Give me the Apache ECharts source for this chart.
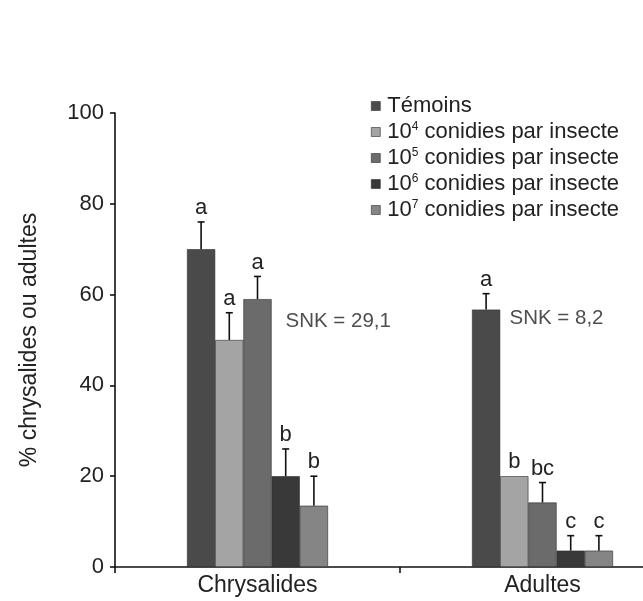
<!DOCTYPE html>
<html>
<head>
<meta charset="utf-8">
<script src="https://cdn.jsdelivr.net/npm/echarts@6/dist/echarts.min.js"></script>
<style>
html,body{margin:0;padding:0;background:#fff;}
#chart{width:643px;height:601px;}
</style>
</head>
<body>
<div id="chart"></div>
<script>
// ---- data ----
var categories = ['Chrysalides', 'Adultes'];
var seriesNames = ['Témoins', '10{s|4} conidies par insecte', '10{s|5} conidies par insecte', '10{s|6} conidies par insecte', '10{s|7} conidies par insecte'];
var temoins = [70, 56.7];
var c1e4 = [50, 20];
var c1e5 = [59, 14.2];
var c1e6 = [20, 3.6];
var c1e7 = [13.5, 3.6];
var errTemoins = [6, 3.5];
var errC1e4 = [6, 0];
var errC1e5 = [5, 4.4];
var errC1e6 = [6, 3.3];
var errC1e7 = [6.5, 3.3];
var lettersTemoins = ['a', 'a'];
var lettersC1e4 = ['a', 'b'];
var lettersC1e5 = ['a', 'bc'];
var lettersC1e6 = ['b', 'c'];
var lettersC1e7 = ['b', 'c'];
var snkTexts = ['SNK = 29,1', 'SNK = 8,2'];
var snkValues = [54.2, 54.8];
var yTicks = [0, 20, 40, 60, 80, 100];

// ---- styles ----
var FONT = 'Liberation Sans, Arial, Helvetica, sans-serif';
var colors = ['#4a4a4a', '#a4a4a4', '#6b6b6b', '#393939', '#858585'];
var BAR_W = 28.2;

var values = [temoins, c1e4, c1e5, c1e6, c1e7];
var errs = [errTemoins, errC1e4, errC1e5, errC1e6, errC1e7];
var letters = [lettersTemoins, lettersC1e4, lettersC1e5, lettersC1e6, lettersC1e7];

var errData = [];
for (var s = 0; s < values.length; s++) {
  for (var c = 0; c < categories.length; c++) {
    errData.push([c, values[s][c], errs[s][c], s, letters[s][c]]);
  }
}

var series = [];
for (var i = 0; i < values.length; i++) {
  series.push({
    name: seriesNames[i],
    type: 'bar',
    data: values[i],
    barWidth: BAR_W,
    barGap: '0%',
    itemStyle: { color: colors[i], borderColor: '#2e2e2e', borderWidth: 0.6 },
    emphasis: { disabled: true },
    animation: false
  });
}

series.push({
  type: 'custom',
  data: errData,
  animation: false,
  z: 5,
  renderItem: function (params, api) {
    var cat = api.value(0), val = api.value(1), err = api.value(2), sIdx = api.value(3);
    var letter = errData[params.dataIndex][4];
    var off = (sIdx - 2) * BAR_W;
    var base = api.coord([cat, val]);
    var top = api.coord([cat, val + err]);
    var x = base[0] + off;
    var children = [];
    if (err > 0) {
      children.push({ type: 'line', shape: { x1: x, y1: base[1], x2: x, y2: top[1] }, style: { stroke: '#111', lineWidth: 1.6 } });
      children.push({ type: 'line', shape: { x1: x - 3.5, y1: top[1], x2: x + 3.5, y2: top[1] }, style: { stroke: '#111', lineWidth: 1.6 } });
    }
    children.push({
      type: 'text',
      style: { x: x, y: top[1] - 3, text: letter, fill: '#222', font: '22px ' + FONT, align: 'center', verticalAlign: 'bottom' }
    });
    return { type: 'group', children: children };
  }
});

series.push({
  type: 'scatter',
  symbolSize: 0,
  silent: true,
  animation: false,
  data: [
    { value: [0, snkValues[0]], label: { offset: [28, 0] } },
    { value: [1, snkValues[1]], label: { offset: [-33, 0] } }
  ],
  label: {
    show: true,
    position: 'inside',
    align: 'left',
    verticalAlign: 'middle',
    color: '#222',
    fontSize: 20.5,
    fontFamily: FONT,
    formatter: function (p) { return snkTexts[p.dataIndex]; }
  }
});

var chart = echarts.init(document.getElementById('chart'), null, { renderer: 'canvas' });
chart.setOption({
  backgroundColor: '#fff',
  animation: false,
  grid: { left: 115, top: 113, bottom: 34, right: -42, containLabel: false, outerBoundsMode: 'none' },
  legend: {
    data: seriesNames,
    orient: 'vertical',
    left: 366,
    top: 90,
    itemWidth: 9,
    itemHeight: 9,
    itemGap: 4,
    icon: 'rect',
    selectedMode: false,
    itemStyle: { borderColor: '#2e2e2e', borderWidth: 0.6 },
    textStyle: {
      color: '#222', fontSize: 22, fontFamily: FONT, lineHeight: 22, padding: [0, 0, 0, 2],
      rich: { s: { fontSize: 12, fontFamily: FONT, color: '#222', verticalAlign: 'top', lineHeight: 14 } }
    }
  },
  xAxis: {
    type: 'category',
    data: categories,
    axisLine: { lineStyle: { color: '#111', width: 1.6 } },
    axisTick: { show: true, length: 6, lineStyle: { color: '#111', width: 1.6 } },
    axisLabel: { color: '#222', fontSize: 23, fontFamily: FONT, margin: 7 },
    splitLine: { show: false }
  },
  yAxis: {
    type: 'value',
    min: 0, max: 100, interval: 20,
    name: '% chrysalides ou adultes',
    nameLocation: 'middle',
    nameGap: 74,
    nameRotate: 90,
    nameTextStyle: { color: '#222', fontSize: 23, fontFamily: FONT },
    axisLine: { show: true, lineStyle: { color: '#111', width: 1.6 } },
    axisTick: { show: true, length: 5, lineStyle: { color: '#111', width: 1.6 } },
    axisLabel: { color: '#222', fontSize: 22, fontFamily: FONT, margin: 11,
      formatter: function (v) { return yTicks.indexOf(v) >= 0 ? String(v) : ''; } },
    splitLine: { show: false }
  },
  series: series
});
</script>
</body>
</html>
